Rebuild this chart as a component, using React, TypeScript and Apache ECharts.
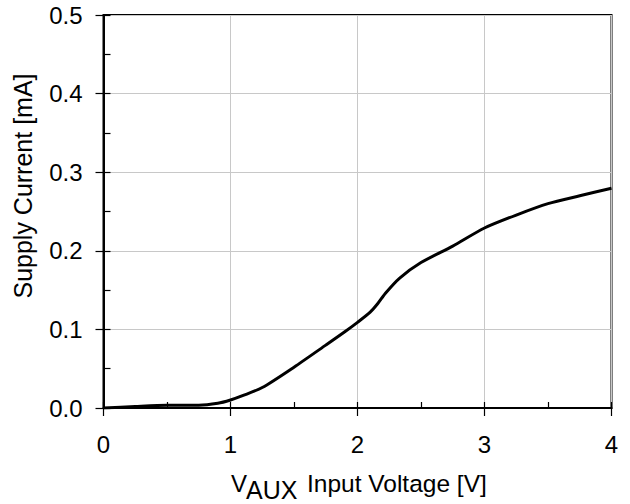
import React, { useEffect, useRef } from "react";
import * as echarts from "echarts";

const voltage = [0, 0.25, 0.5, 0.75, 0.9, 1.0, 1.1, 1.25, 1.5, 1.75, 1.9, 2.0, 2.1, 2.16, 2.22, 2.33, 2.5, 2.75, 3.0, 3.25, 3.5, 3.75, 4.0];
const current = [0, 0.002, 0.0035, 0.0035, 0.006, 0.0102, 0.016, 0.026, 0.052, 0.08, 0.097, 0.109, 0.122, 0.133, 0.146, 0.165, 0.185, 0.206, 0.229, 0.2455, 0.26, 0.27, 0.2795];
const xTicks = { min: 0, max: 4, interval: 1 };
const yTicks = { min: 0, max: 0.5, interval: 0.1 };
const yTitle = "Supply Current [mA]";
const xTitleMain = "V";
const xTitleSub = "AUX";
const xTitleRest = "Input Voltage [V]";

const FONT = "'Liberation Sans', Arial, sans-serif";

export default function App() {
  const ref = useRef<HTMLDivElement>(null);
  useEffect(() => {
    if (!ref.current) return;
    const chart = echarts.init(ref.current, undefined, { renderer: "svg" });
    const data = voltage.map((v, i) => [v, current[i]]);
    const labelStyle = { fontFamily: FONT, fontSize: 24, color: "#000" };
    chart.setOption({
      animation: false,
      backgroundColor: "#fff",
      grid: { left: 103.5, top: 15, right: 18.5, bottom: 96, show: true, borderColor: "#000", borderWidth: 2, backgroundColor: "transparent" },
      xAxis: [
        {
          type: "value", min: xTicks.min, max: xTicks.max, interval: xTicks.interval, position: "bottom",
          axisLine: { show: true, onZero: false, lineStyle: { color: "#000", width: 2 } },
          axisTick: { show: true, inside: true, length: 6, lineStyle: { color: "#000", width: 1.2 } },
          minorTick: { show: true, splitNumber: 2, length: 6, lineStyle: { color: "#000", width: 1.2 } },
          splitLine: { show: true, lineStyle: { color: "#c8c8c8", width: 1 } },
          axisLabel: { ...labelStyle, margin: 24 },
        },
        {
          type: "value", min: xTicks.min, max: xTicks.max, interval: xTicks.interval, position: "bottom",
          axisLine: { show: false, onZero: false },
          axisTick: { show: true, inside: false, length: 8, lineStyle: { color: "#000", width: 1.2 } },
          splitLine: { show: false },
          axisLabel: { show: false },
        },
      ],
      yAxis: [
        {
          type: "value", min: yTicks.min, max: yTicks.max, interval: yTicks.interval, position: "left",
          axisLine: { show: true, onZero: false, lineStyle: { color: "#000", width: 2 } },
          axisTick: { show: true, inside: true, length: 7, lineStyle: { color: "#000", width: 1.2 } },
          minorTick: { show: true, splitNumber: 2, length: 7, lineStyle: { color: "#000", width: 1.2 } },
          splitLine: { show: true, lineStyle: { color: "#c8c8c8", width: 1 } },
          axisLabel: { ...labelStyle, margin: 21, formatter: (v: number) => v.toFixed(1) },
        },
        {
          type: "value", min: yTicks.min, max: yTicks.max, interval: yTicks.interval, position: "left",
          axisLine: { show: false, onZero: false },
          axisTick: { show: true, inside: false, length: 8, lineStyle: { color: "#000", width: 1.2 } },
          splitLine: { show: false },
          axisLabel: { show: false },
        },
      ],
      series: [
        {
          type: "line", xAxisIndex: 0, yAxisIndex: 0, data, showSymbol: false, smooth: 0.25,
          lineStyle: { color: "#000", width: 3 },
        },
      ],
      graphic: [
        { type: "text", x: 23, y: 186, rotation: Math.PI / 2, style: { text: yTitle, font: `25px ${FONT}`, fill: "#000", align: "center", verticalAlign: "middle" } },
        { type: "text", x: 231, y: 483, style: { text: xTitleMain, font: `24px ${FONT}`, fill: "#000", align: "left", verticalAlign: "middle" } },
        { type: "text", x: 246, y: 490, style: { text: xTitleSub, font: `25px ${FONT}`, fill: "#000", align: "left", verticalAlign: "middle" } },
        { type: "text", x: 307, y: 483.5, style: { text: xTitleRest, font: `24.5px ${FONT}`, fill: "#000", align: "left", verticalAlign: "middle" } },
      ],
    });
    return () => chart.dispose();
  }, []);
  return <div ref={ref} style={{ width: 630, height: 504, position: "absolute", left: 0, top: 0 }} />;
}
